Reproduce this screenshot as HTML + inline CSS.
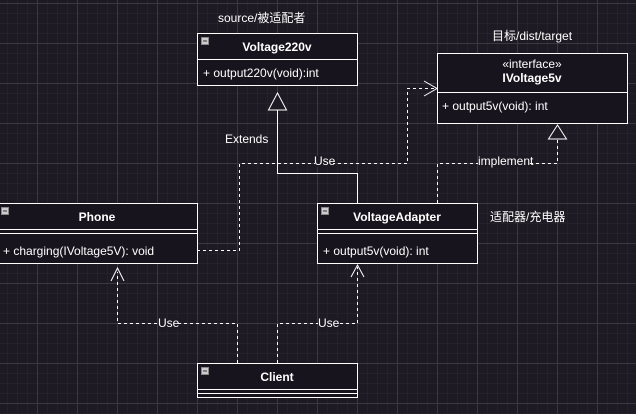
<!DOCTYPE html>
<html><head><meta charset="utf-8"><style>
body{margin:0;width:636px;height:414px;overflow:hidden;background:#1e1a23;font-family:"Liberation Sans","Noto Sans CJK SC",sans-serif;}
svg{position:absolute;left:0;top:0}
text{font-family:"Liberation Sans","Noto Sans CJK SC",sans-serif;fill:#fff;font-size:12px}
.b{font-weight:bold}
</style></head><body>
<svg width="636" height="414">
<defs>
<pattern id="mi" width="10" height="10" patternUnits="userSpaceOnUse" x="7" y="3"><path d="M0 0H10M0 0V10" stroke="#2c2832" stroke-width="1" fill="none"/></pattern>
<pattern id="ma" width="40" height="40" patternUnits="userSpaceOnUse" x="37" y="3"><path d="M0 0.5H40M0.5 0V40" stroke="#3c3842" stroke-width="1" fill="none"/></pattern>
</defs>
<rect width="636" height="414" fill="url(#mi)"/>
<rect width="636" height="414" fill="url(#ma)"/>
<g stroke="#fff" fill="none" stroke-width="1">
<path d="M357.5 203V173.5H277.5V110"/>
<path d="M277.5 93L268.5 110H286.5Z" fill="#1e1a23"/>
<g stroke-dasharray="3,3">
<path d="M197 250.5H239.5V163.5H407.5V88.5H436"/>
<path d="M437.5 203V163.5H557.5V139"/>
<path d="M237.5 363V323.5H117.5V272"/>
<path d="M277.5 363V323.5H357.5V267"/>
</g>
<path d="M424 81L437 88.5L424 96"/>
<path d="M557.5 125L548.5 139H566.5Z" fill="#1e1a23"/>
<path d="M111 281L117.5 268L124 281"/>
<path d="M351 277L357.5 265L364 277"/>
</g>
<g stroke="#fff" fill="#18141e">
<rect x="197.5" y="33.5" width="160" height="52"/>
<path d="M197 59.5H358"/>
<rect x="437.5" y="53.5" width="190" height="70"/>
<path d="M437 92.5H628"/>
<rect x="-1.5" y="203.5" width="199" height="60"/>
<path d="M-2 229.5H198M-2 233.5H198"/>
<rect x="317.5" y="203.5" width="160" height="60"/>
<path d="M317 229.5H478M317 233.5H478"/>
<rect x="197.5" y="363.5" width="160" height="34"/>
<path d="M197 389.5H358M197 393.5H358"/>
</g>
<g fill="#ccc" stroke="#888"><rect x="201.5" y="37.5" width="7" height="7"/><rect x="1.5" y="207.5" width="7" height="7"/><rect x="321.5" y="207.5" width="7" height="7"/><rect x="201.5" y="367.5" width="7" height="7"/></g>
<g fill="#333"><rect x="203" y="40.5" width="4" height="1"/><rect x="3" y="210.5" width="4" height="1"/><rect x="323" y="210.5" width="4" height="1"/><rect x="203" y="370.5" width="4" height="1"/></g>
<text x="277" y="51" class="b" text-anchor="middle">Voltage220v</text>
<text x="203" y="77">+ output220v(void):int</text>
<text x="532" y="68" text-anchor="middle">«interface»</text>
<text x="532" y="82" class="b" text-anchor="middle">IVoltage5v</text>
<text x="442" y="110">+ output5v(void): int</text>
<text x="97" y="221" class="b" text-anchor="middle">Phone</text>
<text x="3" y="255">+ charging(IVoltage5V): void</text>
<text x="397" y="221" class="b" text-anchor="middle">VoltageAdapter</text>
<text x="323" y="255">+ output5v(void): int</text>
<text x="277" y="381" class="b" text-anchor="middle">Client</text>
<text x="218" y="22">source/被适配者</text>
<text x="492" y="40">目标/dist/target</text>
<text x="490" y="221">适配器/充电器</text>
<g>
<rect x="315" y="156" width="18" height="11" fill="#1e1a23"/><text x="314" y="165" font-size="11">Use</text>
<rect x="478" y="156" width="50" height="11" fill="#1e1a23"/><text x="478" y="165" font-size="11">implement</text>
<text x="225" y="143" font-size="11">Extends</text>
<rect x="158" y="318" width="20" height="11" fill="#1e1a23"/><text x="158" y="327" font-size="11">Use</text>
<rect x="318" y="318" width="20" height="11" fill="#1e1a23"/><text x="318" y="327" font-size="11">Use</text>
</g>
</svg>
</body></html>
